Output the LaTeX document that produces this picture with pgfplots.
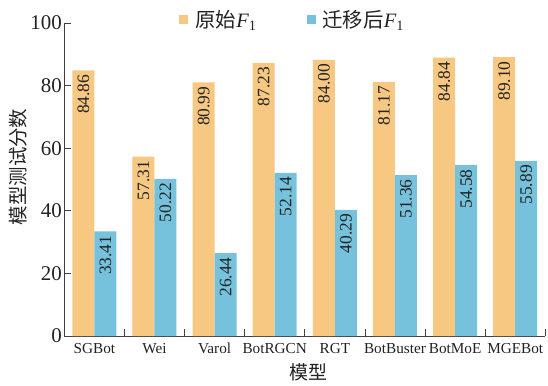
\documentclass[border=0pt]{standalone}
\usepackage{pgfplots}
\pgfplotsset{compat=1.18}
\usepackage{fontspec}
\setmainfont{Liberation Serif}
\newfontfamily\cjk{Noto Sans CJK SC}
\definecolor{orF}{HTML}{F7C882}
\definecolor{blF}{HTML}{76C2DC}
\definecolor{txt}{HTML}{222222}

\begin{document}
\begin{tikzpicture}
\begin{axis}[name=ax,
  scale only axis, width=481bp, height=313bp,
  ybar=0pt, bar width=0.366,
  xmin=-0.5, xmax=7.5, ymin=0, ymax=100,
  axis x line*=bottom, axis y line*=left,
  axis line style={line width=0.8pt, color=black!75},
  tick style={line width=0.8pt, color=black!75},
  tick align=inside, major tick length=7bp,
  ytick={0,20,...,100},
  /pgf/number format/assume math mode=true,
  y tick label style={font=\fontsize{21}{21}\selectfont, text=txt, xshift=1bp},
  xtick={0.5,1.5,...,7.5}, xticklabels={},
  extra x ticks={0,1,...,7},
  extra x tick labels={SGBot,Wei,Varol,BotRGCN,RGT,BotBuster,BotMoE,MGEBot},
  extra x tick style={major tick length=0pt,
    tick label style={font=\fontsize{15.3}{15.3}\selectfont, text=txt,
      anchor=base, inner sep=0pt, yshift=-17bp}},
  ylabel={\cjk 模型测试分数},
  ylabel style={at={(axis description cs:-0.096,0.54)}, anchor=center,
    font=\fontsize{19.5}{19.5}\selectfont, text=txt},
  xlabel={\cjk 模型},
  xlabel style={at={(axis description cs:0.507,-0.115)}, anchor=center,
    font=\fontsize{19}{19}\selectfont, text=txt},
  point meta=explicit symbolic,
  nodes near coords,
  every node near coord/.append style={rotate=90, anchor=east, inner sep=4bp,
    font=\fontsize{17.5}{17.5}\selectfont, text=txt},
  legend columns=2,
  legend style={at={(axis description cs:0.475,1.01)}, anchor=center,
    draw=none, fill=none, font=\fontsize{20.5}{20.5}\selectfont, text=txt,
    /tikz/every odd column/.append style={column sep=5bp},
    /tikz/every even column/.append style={column sep=48bp}},
  legend image code/.code={\fill[#1] (0bp,-4.5bp) rectangle (9bp,4.5bp);},
  clip=false,
]
\addplot[fill=orF, draw=none] table[x=x, y=y, meta=lab] {
x y lab
0 84.86 84.86
1 57.31 57.31
2 80.99 80.99
3 87.23 87.23
4 88.20 84.00
5 81.17 81.17
6 88.90 84.84
7 89.10 89.10
};
\addlegendentry{{\cjk 原始}\textit{F}\textsubscript{1}}
\addplot[fill=blF, draw=none] table[x=x, y=y, meta=lab] {
x y lab
0 33.41 33.41
1 50.22 50.22
2 26.44 26.44
3 52.14 52.14
4 40.29 40.29
5 51.36 51.36
6 54.58 54.58
7 55.89 55.89
};
\addlegendentry{{\cjk 迁移后}\textit{F}\textsubscript{1}}
\end{axis}
\pgfresetboundingbox
\path[use as bounding box] ([shift={(-64.3bp,-50bp)}]ax.south west) rectangle ([shift={(2.7bp,23bp)}]ax.north east);
\end{tikzpicture}
\end{document}
